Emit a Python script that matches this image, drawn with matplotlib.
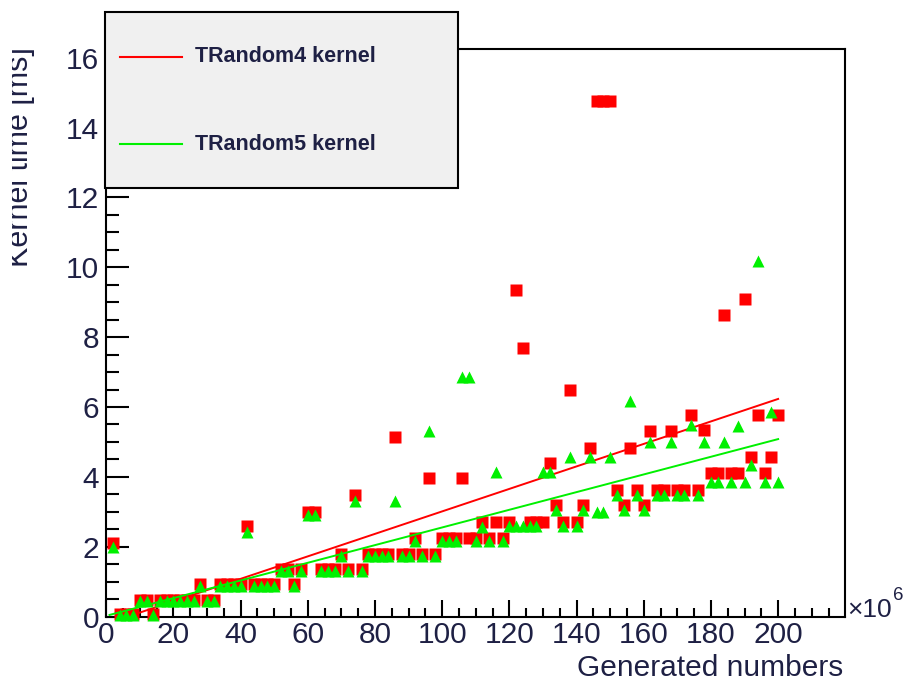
import matplotlib
matplotlib.use("Agg")
import matplotlib.pyplot as plt
import numpy as np
from matplotlib.patches import Rectangle
from matplotlib.lines import Line2D
from matplotlib.ticker import MultipleLocator
from matplotlib.transforms import Bbox, TransformedBbox

# ---- data -------------------------------------------------------------
# generated numbers (x 10^6)
generated = [
    2, 4, 6, 8, 10, 12, 14, 16, 18, 20,
    22, 24, 26, 28, 30, 32, 34, 36, 38, 40,
    42, 44, 46, 48, 50, 52, 54, 56, 58, 60,
    62, 64, 66, 68, 70, 72, 74, 76, 78, 80,
    82, 84, 86, 88, 90, 92, 94, 96, 98, 100,
    102, 104, 106, 108, 110, 112, 114, 116, 118, 120,
    122, 124, 126, 128, 130, 132, 134, 136, 138, 140,
    142, 144, 146, 148, 150, 152, 154, 156, 158, 160,
    162, 164, 166, 168, 170, 172, 174, 176, 178, 180,
    182, 184, 186, 188, 190, 192, 194, 196, 198, 200,
]

# kernel time [ms], TRandom4
time_random4 = [
    2.10, 0.07, 0.07, 0.07, 0.47, 0.47, 0.07, 0.47, 0.47, 0.47,
    0.47, 0.47, 0.47, 0.92, 0.47, 0.47, 0.92, 0.92, 0.92, 0.92,
    2.60, 0.92, 0.92, 0.92, 0.92, 1.36, 1.36, 0.92, 1.36, 3.00,
    3.00, 1.36, 1.36, 1.36, 1.80, 1.36, 3.48, 1.36, 1.80, 1.80,
    1.80, 1.80, 5.15, 1.80, 1.80, 2.24, 1.80, 3.96, 1.80, 2.24,
    2.24, 2.24, 3.96, 2.24, 2.24, 2.72, 2.24, 2.72, 2.24, 2.72,
    9.35, 7.70, 2.72, 2.72, 2.72, 4.39, 3.20, 2.72, 6.49, 2.72,
    3.20, 4.82, 14.75, 14.75, 14.75, 3.63, 3.20, 4.82, 3.63, 3.20,
    5.30, 3.63, 3.63, 5.30, 3.63, 3.63, 5.77, 3.63, 5.34, 4.10,
    4.10, 8.64, 4.10, 4.10, 9.08, 4.58, 5.77, 4.10, 4.58, 5.77,
]

# kernel time [ms], TRandom5
time_random5 = [
    2.00, 0.03, 0.03, 0.03, 0.44, 0.44, 0.03, 0.44, 0.44, 0.44,
    0.44, 0.44, 0.44, 0.88, 0.44, 0.44, 0.88, 0.88, 0.88, 0.88,
    2.43, 0.88, 0.88, 0.88, 0.88, 1.30, 1.30, 0.88, 1.30, 2.90,
    2.90, 1.30, 1.30, 1.30, 1.74, 1.30, 3.30, 1.30, 1.74, 1.74,
    1.74, 1.74, 3.30, 1.74, 1.74, 2.15, 1.74, 5.30, 1.74, 2.15,
    2.15, 2.15, 6.87, 6.87, 2.15, 2.57, 2.15, 4.15, 2.15, 2.60,
    2.60, 2.60, 2.60, 2.60, 4.15, 4.15, 3.05, 2.58, 4.58, 2.58,
    3.05, 4.58, 3.00, 3.00, 4.58, 3.48, 3.05, 6.16, 3.48, 3.05,
    5.00, 3.48, 3.48, 5.00, 3.48, 3.48, 5.49, 3.48, 5.00, 3.86,
    3.86, 5.00, 3.86, 5.46, 3.86, 4.34, 10.17, 3.86, 5.87, 3.86,
]

# linear fits: (intercept, slope)
fit_random4 = (-0.21, 0.0322)
fit_random5 = (0.02, 0.0253)
fit_range = (1, 200)

series_labels = ["TRandom4 kernel", "TRandom5 kernel"]
x_title = "Generated numbers"
y_title = "Kernel time [ms]"

# ---- style ------------------------------------------------------------
W, H, DPI = 909, 687, 100
plt.rcParams["font.family"] = ["Liberation Sans", "DejaVu Sans"]

RED = "#ff0000"
GREEN = "#00f000"
TXT = "#1e2044"


def fx(px):
    return px / W


def fy(py):
    return 1 - py / H


fig = plt.figure(figsize=(W / DPI, H / DPI), dpi=DPI)
fig.patch.set_facecolor("white")

ax_l, ax_r, ax_t, ax_b = 106.2, 845.0, 49.0, 616.5
ax = fig.add_axes([fx(ax_l), fy(ax_b), (ax_r - ax_l) / W, (ax_b - ax_t) / H])

xf = np.linspace(fit_range[0], fit_range[1], 2)

ax.plot(generated, time_random4, ls="none", marker="s", ms=9,
        color=RED, mec="none", clip_on=False, zorder=3)
ax.plot(xf, fit_random4[0] + fit_random4[1] * xf, color=RED, lw=1.4, zorder=4)
ax.plot(generated, time_random5, ls="none", marker="^", ms=9,
        color=GREEN, mec="none", clip_on=False, zorder=5)
ax.plot(xf, fit_random5[0] + fit_random5[1] * xf, color=GREEN, lw=1.4, zorder=6)

ax.set_xlim(0, 219.9)
ax.set_ylim(0, 16.25)

ax.xaxis.set_major_locator(MultipleLocator(20))
ax.xaxis.set_minor_locator(MultipleLocator(5))
ax.yaxis.set_major_locator(MultipleLocator(2))
ax.yaxis.set_minor_locator(MultipleLocator(0.5))

ax.tick_params(which="both", direction="in", top=False, right=False,
               width=1.5, color="black")
ax.tick_params(axis="x", which="major", length=12.5, pad=3,
               labelsize=21.5, labelcolor=TXT)
ax.tick_params(axis="x", which="minor", length=6.8)
ax.tick_params(axis="y", which="major", length=16.5, pad=5,
               labelsize=21.5, labelcolor=TXT)
ax.tick_params(axis="y", which="minor", length=9.4)
for s in ax.spines.values():
    s.set_linewidth(1.5)

# axis titles
ax.set_xlabel(x_title, fontsize=21.5, color=TXT, ha="right", va="center")
ax.xaxis.set_label_coords((843 - ax_l) / (ax_r - ax_l), -(668 - ax_b) / (ax_b - ax_t))
ax.set_ylabel(y_title, fontsize=22, color=TXT, rotation=90, ha="center", va="center")
ax.yaxis.set_label_coords((20 - ax_l) / (ax_r - ax_l), (ax_b - 157) / (ax_b - ax_t))
ylab = ax.yaxis.label
ylab.set_clip_on(True)
ylab.set_clip_box(TransformedBbox(Bbox.from_extents(fx(12), 0, 1, 1), fig.transFigure))

# axis multiplier
fig.text(fx(847), fy(617), "\u00d710", fontsize=19, color=TXT, ha="left", va="baseline")
fig.text(fx(893), fy(600), "6", fontsize=13.5, color=TXT, ha="left", va="baseline")

# legend box
fig.patches.append(Rectangle((fx(105), fy(188)), (458 - 105) / W, (188 - 12) / H,
                             transform=fig.transFigure, facecolor="#f0f0f0",
                             edgecolor="black", lw=1.5, zorder=10))
for yy, col, lab in [(57, RED, series_labels[0]), (144, GREEN, series_labels[1])]:
    fig.lines.append(Line2D([fx(120), fx(182)], [fy(yy), fy(yy)], transform=fig.transFigure,
                            color=col, lw=1.5, zorder=11))
    fig.text(fx(195), fy(yy), lab, fontsize=15.5, fontweight="bold", color=TXT,
             ha="left", va="center", zorder=12)

fig.savefig("out.png", dpi=DPI)
